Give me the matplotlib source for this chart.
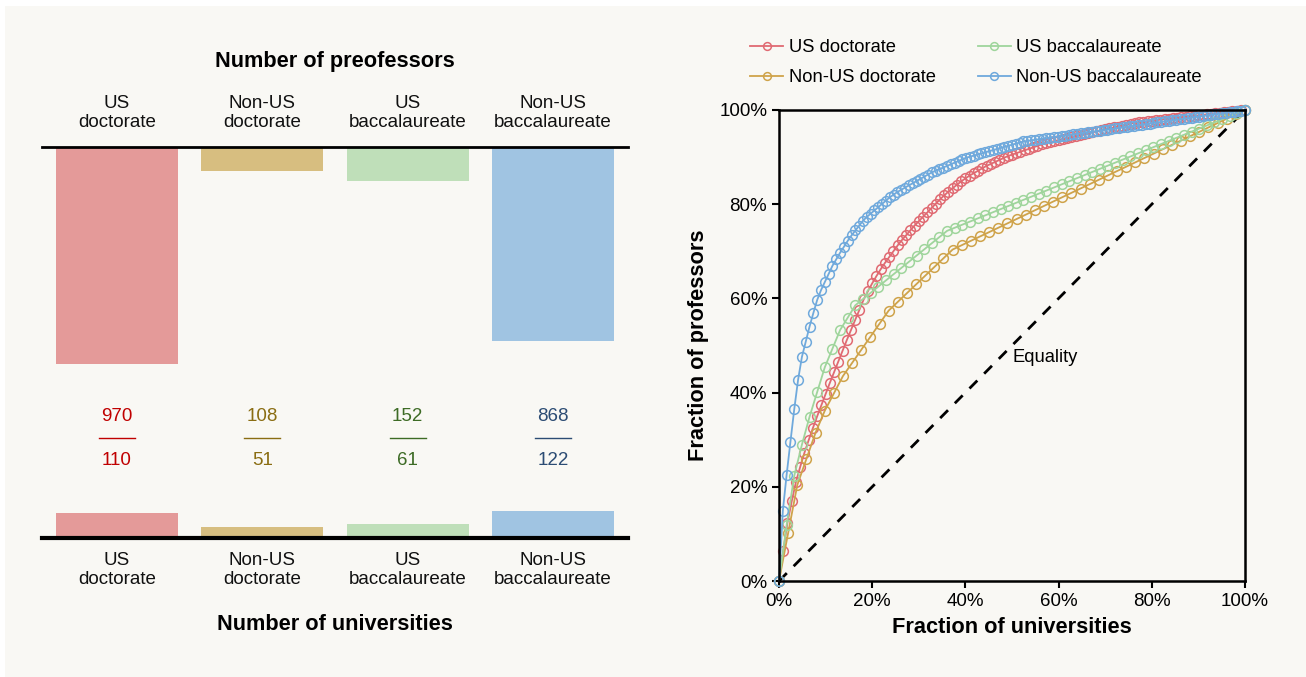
import numpy as np
import matplotlib
matplotlib.use('Agg')
from matplotlib import pyplot as plt
from matplotlib.patches import Rectangle
from matplotlib.ticker import FuncFormatter

plt.rcParams['font.family'] = ['Liberation Sans', 'DejaVu Sans']

categories = ['US doctorate', 'Non-US doctorate', 'US baccalaureate', 'Non-US baccalaureate']
cat_labels = ['US\ndoctorate', 'Non-US\ndoctorate', 'US\nbaccalaureate', 'Non-US\nbaccalaureate']
professors = [970, 108, 152, 868]
universities = [110, 51, 61, 122]

# professors per university, sorted from largest to smallest
us_doctorate = [62, 58, 44, 40, 31, 29, 26, 25, 24, 23, 23, 23,
                22, 22, 22, 22, 21, 21, 21, 21,
                17, 16, 15, 14, 13, 12, 12, 12, 11, 10, 10, 10,
                9, 9, 9, 9, 9, 9, 8, 8, 7, 7, 7, 6,
                6, 5, 5, 5, 5, 4, 4, 4, 4, 4, 3, 3,
                3, 3, 3, 3, 3, 3, 3, 2,
                2, 2, 2, 2, 2, 2, 2, 2, 2, 2, 2, 2, 2,
                2, 2, 2, 2, 2, 2, 2,
                1, 1, 1, 1, 1, 1, 1, 1, 1, 1, 1, 1, 1,
                1, 1, 1, 1, 1, 1, 1, 1, 1, 1, 1, 1, 1]
non_us_doctorate = [11, 11, 6, 6, 5, 4, 4, 3, 3, 3, 3, 3,
                    2, 2, 2, 2, 2, 2, 2,
                    1, 1, 1,
                    1, 1, 1, 1, 1, 1, 1, 1, 1, 1, 1, 1, 1, 1, 1,
                    1, 1, 1, 1, 1, 1, 1, 1, 1, 1, 1, 1, 1, 1]
us_bacc = [18, 16, 10, 9, 8, 8, 6, 6, 4, 4, 2, 2, 2, 2, 2,
           2, 2, 2, 2, 2, 2, 2, 1, 1,
           1, 1, 1, 1, 1, 1, 1, 1, 1, 1, 1, 1, 1, 1, 1, 1, 1, 1, 1,
           1, 1, 1, 1, 1, 1, 1, 1, 1, 1, 1, 1, 1, 1, 1, 1, 1, 1]
non_us_bacc = [129, 67, 61, 60, 54, 42, 28, 28, 25, 24, 18, 15,
               15, 15, 12, 12, 11, 11, 10, 9, 9, 9,
               7, 6, 6, 6, 6, 6, 6, 5, 5,
               4, 4, 4, 4, 4, 4, 4, 4, 4,
               3, 3, 3, 3, 3, 3, 3, 3, 3, 2, 2, 2, 2,
               2, 2, 2, 2, 2, 2, 2, 2, 2, 2, 2,
               1, 1, 1, 1, 1, 1, 1, 1, 1, 1, 1, 1, 1, 1, 1, 1, 1, 1, 1, 1,
               1, 1, 1, 1, 1, 1, 1, 1, 1, 1, 1, 1, 1, 1, 1, 1, 1, 1, 1, 1,
               1, 1, 1, 1, 1, 1, 1, 1, 1, 1, 1, 1, 1, 1, 1, 1, 1, 1]
curves = [us_doctorate, non_us_doctorate, us_bacc, non_us_bacc]

bar_colors = ['#e49a99', '#d7be80', '#bfdfb9', '#a0c4e2']
text_colors = ['#c00000', '#8a6d12', '#3d6b25', '#2c4c74']
line_colors = ['#e06a72', '#cfa34a', '#9fd59c', '#6fa9dc']

W, H = 1306, 677
fig = plt.figure(figsize=(W / 100, H / 100), dpi=100, facecolor='white')
fig.patches.append(Rectangle((5 / W, 0), 1, 1 - 6 / H, transform=fig.transFigure,
                             facecolor='#f9f8f4', edgecolor='none', zorder=-10))

# ---- left panel: bars ----
span = 1745
ax1 = fig.add_axes([42 / W, 1 - 538 / H, (628 - 42) / W, (538 - 147) / H])
ax1.axis('off')
x = np.arange(len(categories))
ax1.set_xlim(-0.515, 3.515)
ax1.set_ylim(0, span)
ax1.bar(x, [-p for p in professors], bottom=span, width=0.84, color=bar_colors)
ax1.bar(x, universities, bottom=0, width=0.84, color=bar_colors)
ax1.axhline(span, color='black', lw=2, clip_on=False)
ax1.axhline(0, color='black', lw=3, clip_on=False)

tr = ax1.get_xaxis_transform()
for i in range(len(categories)):
    ax1.text(i, 1.088, cat_labels[i], transform=tr, ha='center', va='center',
             fontsize=13.5, color='#111111', linespacing=1.15)
    ax1.text(i, -0.083, cat_labels[i], transform=tr, ha='center', va='center',
             fontsize=13.5, color='#111111', linespacing=1.15)
    ax1.text(i, 0.31, str(professors[i]), transform=tr, ha='center', va='center',
             fontsize=13.5, color=text_colors[i])
    ax1.text(i, 0.197, str(universities[i]), transform=tr, ha='center', va='center',
             fontsize=13.5, color=text_colors[i])
    ax1.plot([i - 0.125, i + 0.125], [0.256, 0.256], transform=tr,
             color=text_colors[i], lw=1)

fig.text(335 / W, 1 - 62 / H, 'Number of preofessors', ha='center', va='center',
         fontsize=15.7, fontweight='bold')
fig.text(335 / W, 1 - 625 / H, 'Number of universities', ha='center', va='center',
         fontsize=15.7, fontweight='bold')

# ---- right panel: concentration curves ----
ax2 = fig.add_axes([779 / W, 1 - 581 / H, 466 / W, 471 / H])
ax2.set_facecolor('none')
for name, counts, col in zip(categories, curves, line_colors):
    c = np.array(counts)
    xs = np.arange(len(c) + 1) / len(c)
    ys = np.concatenate([[0], np.cumsum(c)]) / c.sum()
    ax2.plot(xs, ys, '-o', color=col, lw=1.3, ms=7, mfc='none', mew=1.1,
             label=name, clip_on=False)
ax2.plot([0, 1], [0, 1], color='black', lw=2, dashes=(4, 3.5), zorder=1)
ax2.text(0.5, 0.475, 'Equality', fontsize=13.2, va='center')

ax2.set_xlim(0, 1)
ax2.set_ylim(0, 1)
ticks = np.linspace(0, 1, 6)
ax2.set_xticks(ticks)
ax2.set_yticks(ticks)
pct = FuncFormatter(lambda v, p: '%d%%' % round(v * 100))
ax2.xaxis.set_major_formatter(pct)
ax2.yaxis.set_major_formatter(pct)
ax2.tick_params(direction='out', length=5, width=1.5, labelsize=13.5, colors='black')
for s in ax2.spines.values():
    s.set_linewidth(1.8)
ax2.set_xlabel('Fraction of universities', fontsize=15.7, fontweight='bold', labelpad=5)
ax2.set_ylabel('Fraction of professors', fontsize=15.7, fontweight='bold', labelpad=7)

ax2.legend(loc='center left', bbox_to_anchor=(-0.062, 1.1), ncol=2, frameon=False,
           fontsize=13.2, borderpad=0, borderaxespad=0, handlelength=1.8,
           handletextpad=0.3, columnspacing=2.3, labelspacing=0.7, markerscale=0.8)

fig.savefig('out.png', dpi=100, facecolor=fig.get_facecolor())
